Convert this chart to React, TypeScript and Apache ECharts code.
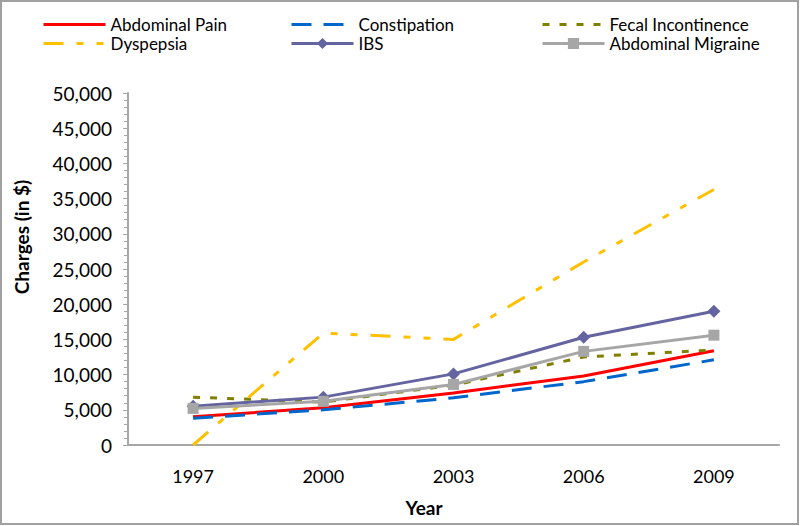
import React, { useEffect, useRef } from "react";
import * as echarts from "echarts";

const years = ["1997", "2000", "2003", "2006", "2009"];
const abdominalPain = [4000, 5300, 7400, 9800, 13400];
const constipation = [3800, 5000, 6700, 9000, 12100];
const fecalIncontinence = [6800, 6100, 8500, 12500, 13500];
const dyspepsia = [0, 15900, 15000, 26000, 36300];
const ibs = [5500, 6800, 10100, 15300, 19000];
const abdominalMigraine = [5200, 6200, 8600, 13300, 15600];

const FONT = "Lato";

export default function App() {
  const ref = useRef<HTMLDivElement>(null);
  useEffect(() => {
    document.body.style.margin = "0";
    const chart = echarts.init(ref.current!, null, { renderer: "svg" });
    const legendPos = [
      { name: "Abdominal Pain", left: 42, top: 16, color: "#ff0000", marker: false, dash: "solid" as any },
      { name: "Constipation", left: 290, top: 16, color: "#0066cc", marker: false, dash: [20, 12] },
      { name: "Fecal Incontinence", left: 541, top: 16, color: "#808000", marker: false, dash: [7, 10] },
      { name: "Dyspepsia", left: 42, top: 35, color: "#ffc000", marker: false, dash: [20, 13, 7, 13, 7, 13] },
      { name: "IBS", left: 290, top: 35, color: "#6464a0", marker: true, dash: "solid" as any },
      { name: "Abdominal Migraine", left: 541, top: 35, color: "#a6a6a6", marker: true, dash: "solid" as any },
    ];
    chart.setOption({
      animation: false,
      backgroundColor: "#ffffff",
      grid: { left: 128, right: 21, top: 93, bottom: 81, containLabel: false },
      legend: legendPos.map((l) => ({
        data: [l.name],
        left: l.left,
        top: l.top,
        padding: 0,
        itemWidth: 62,
        itemHeight: 14,
        itemStyle: l.marker ? { color: l.color, opacity: 1 } : { color: l.color, opacity: 0 },
        lineStyle: { color: l.color, width: 3, type: l.dash, opacity: 1 },
        textStyle: { fontFamily: FONT, fontSize: 17, color: "#000" },
      })),
      xAxis: {
        type: "category",
        data: years,
        boundaryGap: true,
        axisLine: { lineStyle: { color: "#a6a6a6", width: 2 } },
        axisTick: { show: false },
        axisLabel: { fontFamily: FONT, fontSize: 18, color: "#000", margin: 22 },
      },
      yAxis: {
        type: "value",
        min: 0,
        max: 50000,
        interval: 5000,
        axisLine: { show: true, lineStyle: { color: "#a6a6a6", width: 2 } },
        axisTick: { show: true, length: 5, lineStyle: { color: "#a6a6a6", width: 1 } },
        minorTick: { show: true, splitNumber: 5, length: 4, lineStyle: { color: "#a6a6a6", width: 1 } },
        splitLine: { show: false },
        axisLabel: {
          fontFamily: FONT,
          fontSize: 19,
          color: "#000",
          margin: 16,
          formatter: (v: number) => v.toLocaleString("en-US"),
        },
      },
      graphic: [
        {
          type: "rect",
          shape: { x: 1, y: 1, width: 797, height: 523 },
          style: { fill: "none", stroke: "#a0a0a0", lineWidth: 2 },
          silent: true,
        },
        {
          type: "text",
          x: 21,
          y: 237,
          rotation: Math.PI / 2,
          style: {
            text: "Charges (in $)",
            fontFamily: FONT,
            fontSize: 19,
            fontWeight: "bold",
            fill: "#000",
            align: "center",
            verticalAlign: "middle",
          },
        },
        {
          type: "text",
          x: 424,
          y: 507,
          style: {
            text: "Year",
            fontFamily: FONT,
            fontSize: 19,
            fontWeight: "bold",
            fill: "#000",
            align: "center",
            verticalAlign: "middle",
          },
        },
      ],
      series: [
        {
          name: "Abdominal Pain",
          type: "line",
          data: abdominalPain,
          symbol: "none",
          color: "#ff0000",
          lineStyle: { color: "#ff0000", width: 3 },
        },
        {
          name: "Constipation",
          type: "line",
          data: constipation,
          symbol: "none",
          color: "#0066cc",
          lineStyle: { color: "#0066cc", width: 3, type: [20, 12] },
        },
        {
          name: "Fecal Incontinence",
          type: "line",
          data: fecalIncontinence,
          symbol: "none",
          color: "#808000",
          lineStyle: { color: "#808000", width: 3, type: [7, 10] },
        },
        {
          name: "Dyspepsia",
          type: "line",
          data: dyspepsia,
          symbol: "none",
          color: "#ffc000",
          lineStyle: { color: "#ffc000", width: 3, type: [20, 13, 7, 13, 7, 13] },
        },
        {
          name: "IBS",
          type: "line",
          data: ibs,
          symbol: "diamond",
          symbolSize: 13,
          color: "#6464a0",
          itemStyle: { color: "#6464a0" },
          lineStyle: { color: "#6464a0", width: 3 },
        },
        {
          name: "Abdominal Migraine",
          type: "line",
          data: abdominalMigraine,
          symbol: "rect",
          symbolSize: 11,
          color: "#a6a6a6",
          itemStyle: { color: "#a6a6a6" },
          lineStyle: { color: "#a6a6a6", width: 3 },
        },
      ],
    });
    return () => chart.dispose();
  }, []);
  return <div ref={ref} style={{ width: 800, height: 526 }} />;
}
